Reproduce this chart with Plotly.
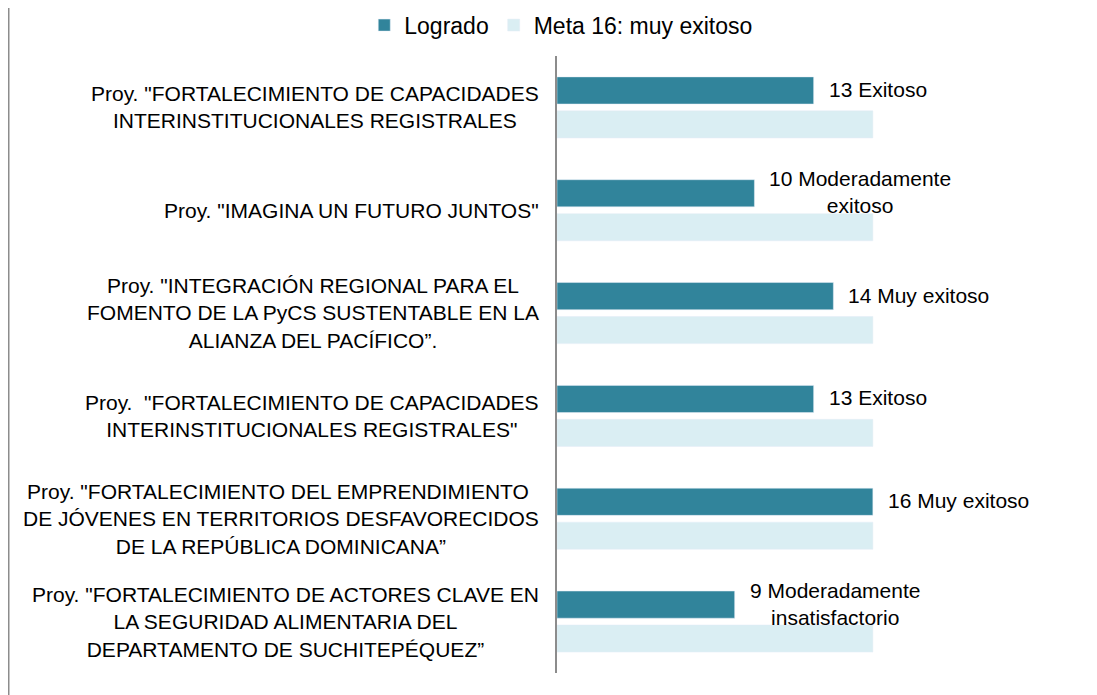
import plotly.graph_objects as go

# proyectos (de arriba hacia abajo)
proyectos = [
    'Proy. "FORTALECIMIENTO DE CAPACIDADES<br>INTERINSTITUCIONALES REGISTRALES',
    'Proy. "IMAGINA UN FUTURO JUNTOS"',
    'Proy. "INTEGRACIÓN REGIONAL PARA EL<br>FOMENTO DE LA PyCS SUSTENTABLE EN LA<br>ALIANZA DEL PACÍFICO”.',
    'Proy.  "FORTALECIMIENTO DE CAPACIDADES<br>INTERINSTITUCIONALES REGISTRALES"',
    'Proy. "FORTALECIMIENTO DEL EMPRENDIMIENTO <br>DE JÓVENES EN TERRITORIOS DESFAVORECIDOS<br>DE LA REPÚBLICA DOMINICANA”',
    'Proy. "FORTALECIMIENTO DE ACTORES CLAVE EN<br>LA SEGURIDAD ALIMENTARIA DEL<br>DEPARTAMENTO DE SUCHITEPÉQUEZ”',
]
logrado = [13, 10, 14, 13, 16, 9]
meta = [16, 16, 16, 16, 16, 16]
etiquetas = [
    '13 Exitoso',
    '10 Moderadamente<br>exitoso',
    '14 Muy exitoso',
    '13 Exitoso',
    '16 Muy exitoso',
    '9 Moderadamente<br>insatisfactorio',
]

FONT = 'Liberation Sans, Arial, sans-serif'

fig = go.Figure()
fig.add_trace(go.Bar(y=proyectos, x=logrado, orientation='h', name='Logrado',
                     marker_color='#31849B', hoverinfo='x'))
fig.add_trace(go.Bar(y=proyectos, x=meta, orientation='h', name='Meta 16: muy exitoso',
                     marker_color='#DAEEF3', hoverinfo='x'))

# etiquetas de valor a la derecha de las barras "Logrado"
for p, v, t in zip(proyectos, logrado, etiquetas):
    fig.add_annotation(x=v, y=p, text=t, showarrow=False, xanchor='left',
                       xshift=14, yshift=18, align='center', borderpad=0,
                       font=dict(size=21, color='black', family=FONT))

# nombres de los proyectos, centrados como en el original
for p in proyectos:
    fig.add_annotation(x=0, xref='paper', y=p, text=p, showarrow=False,
                       xanchor='right', xshift=-17, align='center', borderpad=0,
                       font=dict(size=21, color='black', family=FONT))

# linea gris del borde izquierdo
fig.add_shape(type='line', xref='paper', yref='paper',
              x0=(0.75 - 549) / 533, x1=(0.75 - 549) / 533, y0=-0.05, y1=1.1,
              line=dict(color='#8c8c8c', width=1.5))

# la pagina tiene 8px de margen, asi que la figura es 8px mas pequena
fig.update_layout(
    width=1089, height=687,
    margin=dict(l=549, r=7, t=48, b=22, autoexpand=False),
    paper_bgcolor='white', plot_bgcolor='white',
    barmode='group', bargap=0.34, bargroupgap=0.2,
    font=dict(family=FONT, size=20, color='black'),
    legend=dict(orientation='h', x=0.008, xanchor='center', y=1.05, yanchor='middle',
                font=dict(size=23), itemwidth=30),
    xaxis=dict(range=[0, 27], visible=False),
    yaxis=dict(autorange='reversed', showticklabels=False, ticks='',
               showline=True, linecolor='#8c8c8c', linewidth=1.5, showgrid=False),
)

fig.write_html('out.html')
